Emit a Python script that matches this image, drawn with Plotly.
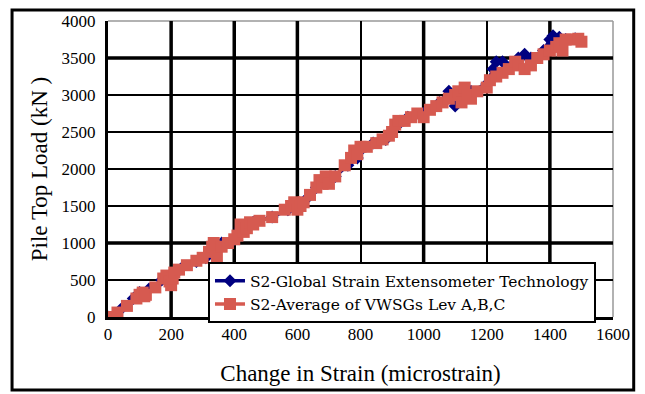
import plotly.graph_objects as go

# Series 1: S2-Global Strain Extensometer Technology
ext_strain = [0, 40, 80, 100, 130, 170, 200, 230, 280, 310, 330, 360, 400, 420, 460, 520, 570, 600,
              630, 660, 700, 720, 760, 790, 800, 840, 880, 900, 920, 950, 1000, 1050, 1080, 1100,
              1120, 1150, 1200, 1220, 1230, 1250, 1280, 1300, 1320, 1340, 1380, 1400, 1410, 1430,
              1450, 1480]
ext_load = [0, 100, 250, 330, 380, 500, 580, 650, 750, 800, 950, 1000, 1050, 1200, 1280, 1350, 1450, 1500,
            1600, 1750, 1850, 1900, 2050, 2150, 2250, 2350, 2400, 2500, 2600, 2700, 2750, 2900, 3050, 2850,
            3000, 3050, 3150, 3350, 3450, 3450, 3400, 3500, 3550, 3500, 3600, 3750, 3800, 3780,
            3750, 3760]

# Series 2: S2-Average of VWSGs Lev A,B,C
vw_strain = [0, 30, 60, 90, 100, 110, 115, 120, 150, 175, 185, 195, 200, 205, 210, 225, 250, 280, 300,
             320, 330, 335, 340, 345, 360, 380, 400, 410, 420, 430, 440, 450, 460, 480, 520, 560, 580,
             590, 600, 610, 620, 640, 660, 670, 680, 690, 700, 720, 750, 770, 780, 790, 800, 820, 850,
             870, 890, 900, 910, 920, 940, 960, 980, 1000, 1020, 1040, 1060, 1080, 1100, 1110, 1120,
             1130, 1140, 1150, 1170, 1200, 1210, 1230, 1250, 1270, 1290, 1300, 1320, 1340, 1360, 1380,
             1400, 1420, 1430, 1440, 1450, 1470, 1490, 1500]
vw_load = [0, 60, 150, 250, 300, 330, 280, 300, 400, 520, 560, 480, 430, 520, 600, 640, 700, 760, 800,
           880, 950, 1000, 900, 820, 950, 1000, 1050, 1100, 1250, 1150, 1200, 1280, 1250, 1300, 1350, 1450, 1500,
           1550, 1450, 1500, 1550, 1650, 1750, 1850, 1800, 1900, 1800, 1900, 2050, 2150, 2250, 2200, 2300, 2300, 2350,
           2400, 2450, 2500, 2600, 2650, 2650, 2700, 2750, 2700, 2800, 2850, 2900, 2950, 3000, 3050, 2900,
           3100, 3000, 2950, 3050, 3100, 3200, 3250, 3300, 3350, 3450, 3400, 3350, 3400, 3500, 3550,
           3600, 3650, 3700, 3600, 3750, 3750, 3760, 3720]

x_ticks = [0, 200, 400, 600, 800, 1000, 1200, 1400, 1600]
y_ticks = [0, 500, 1000, 1500, 2000, 2500, 3000, 3500, 4000]
thick_x = [200, 400, 600, 1000, 1400]
thick_y = [1000, 3500]

NAVY = "#000080"
RED = "#D65A50"
FONT = "Liberation Serif, Times New Roman, serif"
LEG_FONT = "DejaVu Serif, Liberation Serif, serif"

fig = go.Figure()
fig.add_trace(go.Scatter(
    x=ext_strain, y=ext_load, mode="lines+markers",
    name="S2-Global Strain Extensometer Technology",
    line=dict(color=NAVY, width=3.5),
    marker=dict(symbol="diamond", size=10, color=NAVY),
))
fig.add_trace(go.Scatter(
    x=vw_strain, y=vw_load, mode="lines+markers",
    name="S2-Average of VWSGs Lev A,B,C",
    line=dict(color=RED, width=3.5),
    marker=dict(symbol="square", size=12, color=RED),
))

shapes = []
for xv in thick_x:
    shapes.append(dict(type="line", xref="x", yref="y", x0=xv, x1=xv, y0=0, y1=4000,
                       line=dict(color="black", width=3.5), layer="below"))
for yv in thick_y:
    shapes.append(dict(type="line", xref="x", yref="y", x0=0, x1=1600, y0=yv, y1=yv,
                       line=dict(color="black", width=3.5), layer="below"))
# light top/right plot edges
shapes.append(dict(type="line", xref="paper", yref="paper", x0=0, x1=1, y0=1, y1=1,
                   line=dict(color="#999999", width=1.5), layer="below"))
shapes.append(dict(type="line", xref="paper", yref="paper", x0=1, x1=1, y0=0, y1=1,
                   line=dict(color="#999999", width=1.5), layer="below"))
# outer frame
shapes.append(dict(type="rect", xref="paper", yref="paper", x0=-0.190, x1=1.041, y0=-0.247, y1=1.037,
                   line=dict(color="black", width=3), fillcolor="rgba(0,0,0,0)", layer="above"))

fig.update_layout(
    width=637, height=386,
    margin=dict(l=100, r=32, t=13, b=77),
    paper_bgcolor="white", plot_bgcolor="white",
    font=dict(family=FONT, size=17, color="black"),
    shapes=shapes,
    showlegend=True,
    legend=dict(
        x=0.198, y=0.185, xanchor="left", yanchor="top",
        bgcolor="white", bordercolor="black", borderwidth=2,
        font=dict(family=LEG_FONT, size=15.5, color="black"),
        tracegroupgap=0, itemsizing="trace", itemwidth=30,
    ),
    xaxis=dict(
        range=[0, 1600], tickvals=x_ticks, ticktext=[str(v) for v in x_ticks],
        showgrid=True, gridcolor="black", gridwidth=2,
        showline=True, linecolor="black", linewidth=3, mirror=False,
        zeroline=False, ticks="", ticklabelstandoff=0, automargin=False,
        title=dict(text="Change in Strain (microstrain)", font=dict(family=FONT, size=23), standoff=22),
        tickfont=dict(family=FONT, size=17),
    ),
    yaxis=dict(
        range=[0, 4000], tickvals=y_ticks, ticktext=[str(v) for v in y_ticks],
        showgrid=True, gridcolor="black", gridwidth=2,
        showline=True, linecolor="black", linewidth=3, mirror=False,
        zeroline=False, ticks="", ticklabelstandoff=6, automargin=False,
        title=dict(text="Pile Top Load (kN )", font=dict(family=FONT, size=23), standoff=8),
        tickfont=dict(family=FONT, size=17),
    ),
)

fig.write_html("out.html")
